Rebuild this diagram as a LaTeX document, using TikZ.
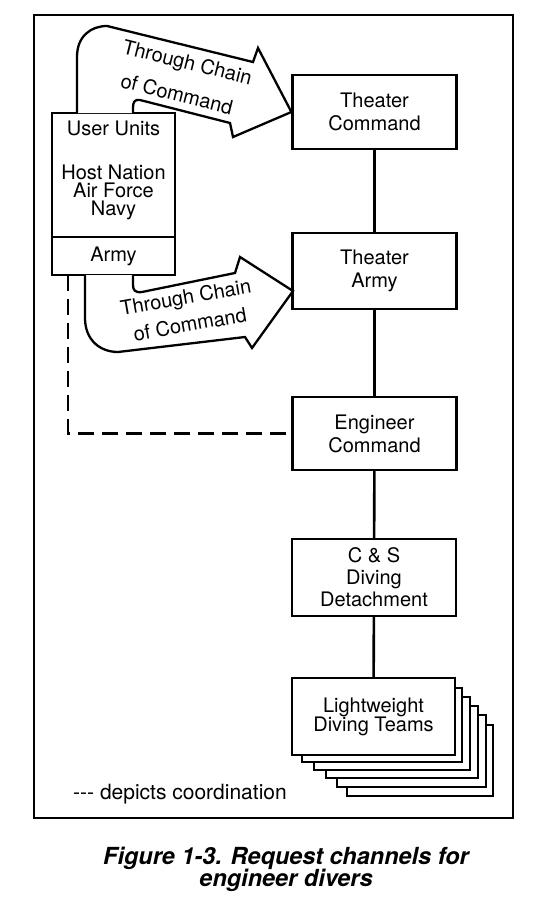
\documentclass[tikz,border=0pt]{standalone}
\usepackage{fontspec}
\setmainfont{TeX Gyre Heros}
\begin{document}
\begin{tikzpicture}[x=1pt,y=-1pt,
  box/.style={draw, line width=2.2pt, minimum width=164pt, inner sep=0pt, align=center,
    font=\fontsize{20}{23}\selectfont, fill=white},
  stackbox/.style={draw, line width=2pt, fill=white},
  bigarrow/.style={draw, line width=2.3pt, line join=miter, fill=white},
  lbl/.style={font=\fontsize{20}{24}\selectfont, inner sep=0pt},
  link/.style={line width=2.6pt},
  coord/.style={line width=2.4pt, dash pattern=on 16pt off 8pt},
  frame/.style={draw, line width=1.5pt}]
\useasboundingbox (0,0) rectangle (550,907);
\draw[frame] (34,15) rectangle (513,818);

% boxes on the right
\node[box, minimum height=74pt] (tc) at (374.5,112) {Theater\\Command};
\node[box, minimum height=76pt] (ta) at (374.5,271) {Theater\\Army};
\node[box, minimum height=73pt] (ec) at (374.5,433.5) {Engineer\\Command};
\node[box, minimum height=77pt, font=\fontsize{20}{22}\selectfont] (cs) at (374,577.5) {C \& S\\Diving\\Detachment};

% stacked copies behind the team box
\draw[stackbox] (347,725) rectangle (493,796);
\draw[stackbox] (337,715) rectangle (486,787);
\draw[stackbox] (326,706) rectangle (478,778);
\draw[stackbox] (314,697) rectangle (470,770);
\draw[stackbox] (302,688) rectangle (462,762);
\node[box, minimum height=77pt, minimum width=163pt, font=\fontsize{20}{19}\selectfont] (lw) at (373.5,716.5) {Lightweight\\Diving Teams};

% connectors
\draw[link] (tc) -- (ta);
\draw[link] (ta) -- (ec);
\draw[link] (ec) -- (cs);
\draw[link] (cs) -- (lw);

% user units box
\node[draw, line width=2.2pt, minimum width=123pt, minimum height=124pt, inner sep=0pt] (user) at (113.5,175) {};
\node[draw, line width=2.2pt, minimum width=123pt, minimum height=38pt, inner sep=0pt, font=\fontsize{20}{23}\selectfont] (army) at (113.5,256) {Army};
\node[lbl, anchor=base] (uu) at (113.5,135) {User Units};
\node[lbl, anchor=base] (hn) at (113.5,179) {Host Nation};
\node[lbl, anchor=base] (af) at (113.5,197) {Air Force};
\node[lbl, anchor=base] (nv) at (113.5,215) {Navy};

% upper broad arrow
\draw[bigarrow] (77,113) -- (77,57) .. controls (77,36) and (91,26) .. (107,26)
  -- (253,62) -- (258,48) -- (tc.west) -- (233,137) -- (230,123) -- (140,100)
  .. controls (134,99) and (133,103) .. (133,108) -- (133,113);
\node[lbl, rotate=-14] (t1a) at (187,64) {Through Chain};
\node[lbl, rotate=-14] (t1b) at (177,94) {of Command};

% lower broad arrow
\coordinate (tip2) at (293,291);
\draw[bigarrow] (85,275) -- (85,318) .. controls (85,340) and (100,352) .. (118,352)
  -- (245,337) -- (252,348) -- (tip2) -- (240,257) -- (235,273) -- (142,292)
  .. controls (135,293) and (133,290) .. (133,285) -- (133,275);
\node[lbl, rotate=10] (t2a) at (186,299) {Through Chain};
\node[lbl, rotate=10] (t2b) at (190,324) {of Command};

% coordination (dashed)
\coordinate (dstart) at (68,275);
\draw[coord] (dstart) |- (ec.west);

% legend and caption
\node[anchor=base west, inner sep=0pt, font=\fontsize{21}{25}\selectfont] (leg) at (73,799) {-{}-{}- depicts coordination};
\node[anchor=base, inner sep=0pt, font=\fontsize{23.5}{26}\selectfont\bfseries\itshape] (cap1) at (286,864) {Figure 1-3. Request channels for};
\node[anchor=base, inner sep=0pt, font=\fontsize{23.5}{26}\selectfont\bfseries\itshape] (cap2) at (286,886) {engineer divers};
\end{tikzpicture}
\end{document}
